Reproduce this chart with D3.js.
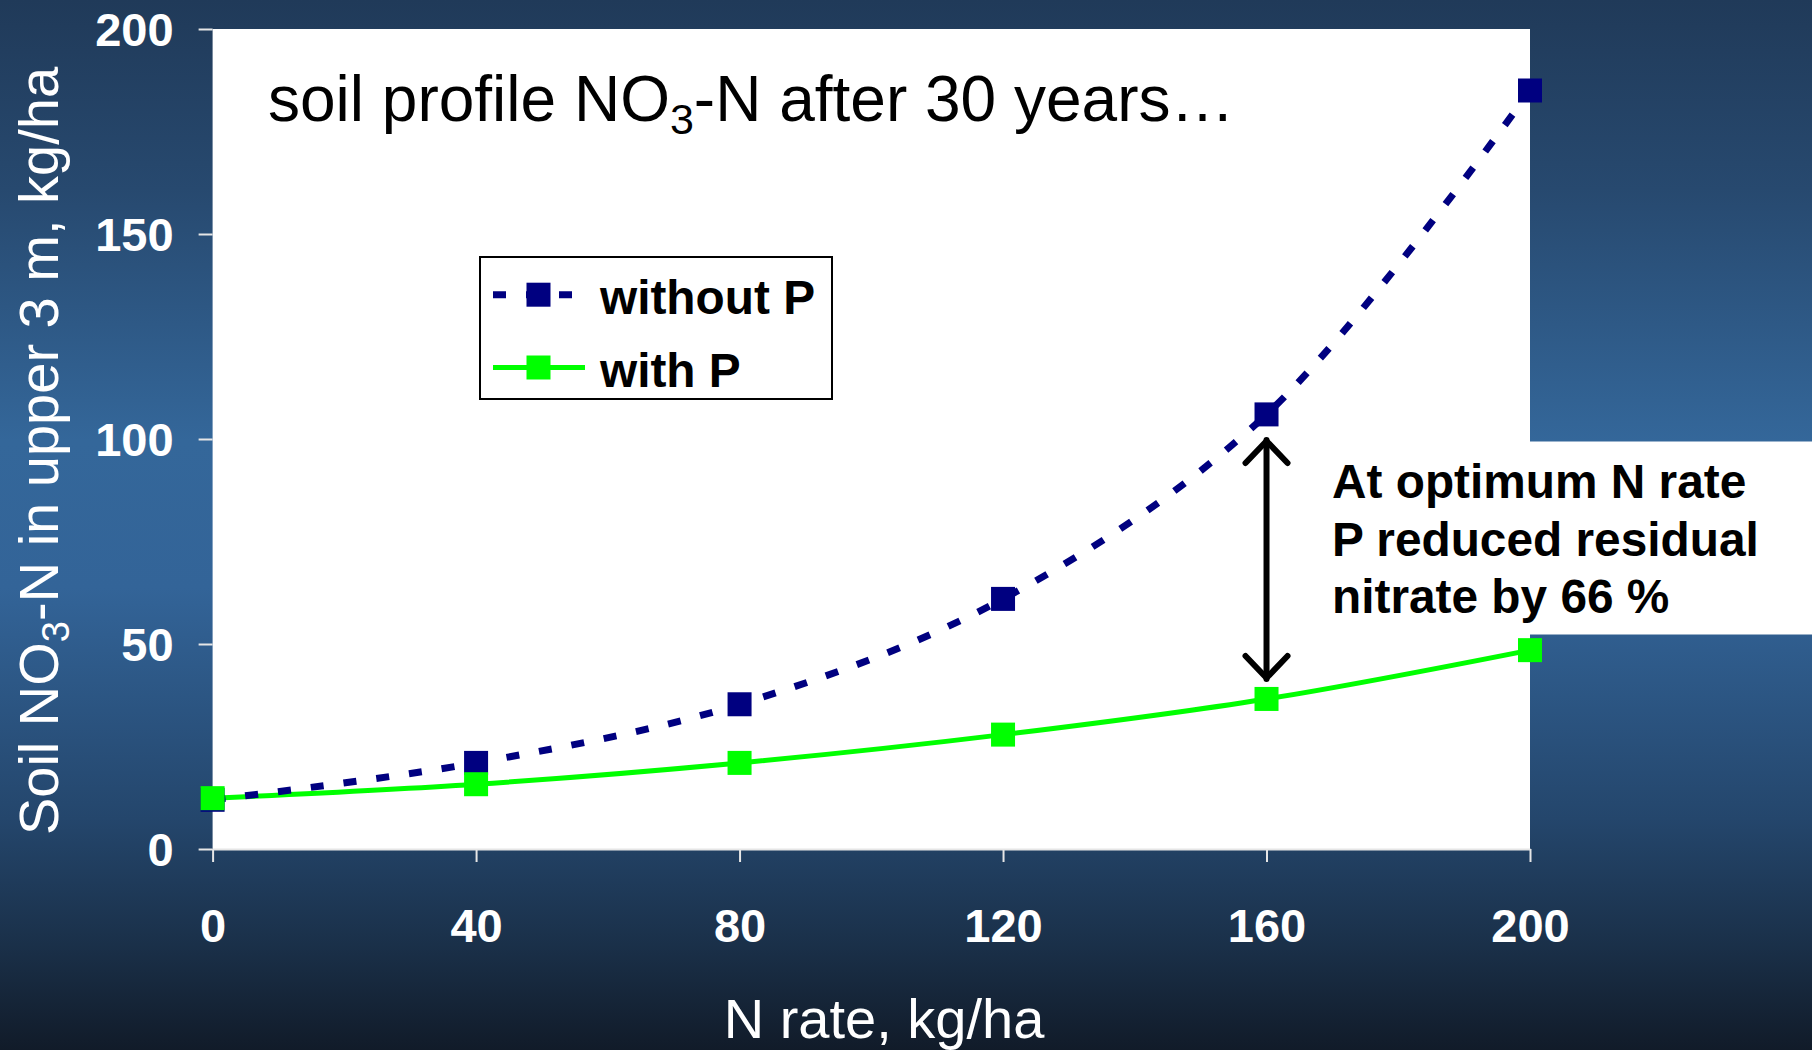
<!DOCTYPE html>
<html>
<head>
<meta charset="utf-8">
<script src="https://cdn.jsdelivr.net/npm/d3@7/dist/d3.min.js"></script>
<style>
  html, body { margin: 0; padding: 0; overflow: hidden; background: #1a2d45; }
  svg { display: block; }
</style>
</head>
<body>
<svg id="chart" width="1812" height="1050"></svg>
<script>
// ---- data ----
const nRates = [0, 40, 80, 120, 160, 200];
const withoutP = [12, 21, 35.3, 61, 106, 185];
const withP = [12.4, 15.8, 21, 27.9, 36.6, 48.5];
const yTickValues = [0, 50, 100, 150, 200];
const seriesNames = ["without P", "with P"];
const annotationLines = ["At optimum N rate", "P reduced residual", "nitrate by 66 %"];

// ---- layout ----
const W = 1812, H = 1050;
const plot = { left: 212.6, right: 1530, top: 29, bottom: 849 };
const FONT = "'Liberation Sans', Arial, Helvetica, sans-serif";

const svg = d3.select("#chart");

// background gradient
const defs = svg.append("defs");
const grad = defs.append("linearGradient").attr("id", "bg")
  .attr("x1", 0).attr("y1", 0).attr("x2", 0).attr("y2", 1);
[[0, "#203a59"], [0.18, "#27496f"], [0.42, "#34679a"], [0.56, "#336498"], [0.78, "#24466c"], [0.9, "#1a3049"], [1, "#111b29"]]
  .forEach(([o, c]) => grad.append("stop").attr("offset", o).attr("stop-color", c));
svg.append("rect").attr("width", W).attr("height", H).attr("fill", "url(#bg)");

// scales
const x = d3.scaleLinear().domain([0, 200]).range([plot.left, plot.right]);
const y = d3.scaleLinear().domain([0, 200]).range([plot.bottom, plot.top]);

// plot area
svg.append("rect")
  .attr("x", plot.left).attr("y", plot.top)
  .attr("width", plot.right - plot.left).attr("height", plot.bottom - plot.top)
  .attr("fill", "#ffffff");

// annotation white box
svg.append("rect")
  .attr("x", 1320).attr("y", 441.5).attr("width", W - 1320).attr("height", 193)
  .attr("fill", "#ffffff");

// axes
const xAxis = svg.append("g").attr("transform", `translate(0,${plot.bottom})`)
  .call(d3.axisBottom(x).tickValues(nRates).tickSize(13).tickSizeOuter(0).tickPadding(47));
xAxis.select(".domain").attr("stroke", "#e6e6e6").attr("stroke-width", 2);
xAxis.selectAll(".tick line").attr("stroke", "#e6e6e6").attr("stroke-width", 2);
xAxis.selectAll(".tick text")
  .attr("fill", "#ffffff").attr("font-family", FONT).attr("font-weight", "bold")
  .attr("font-size", 47).attr("dy", "0.71em");

const yAxis = svg.append("g").attr("transform", `translate(${plot.left},0)`)
  .call(d3.axisLeft(y).tickValues(yTickValues).tickSize(14).tickSizeOuter(0).tickPadding(25));
yAxis.select(".domain").remove();
yAxis.selectAll(".tick line").attr("stroke", "#e6e6e6").attr("stroke-width", 2);
yAxis.selectAll(".tick text")
  .attr("fill", "#ffffff").attr("font-family", FONT).attr("font-weight", "bold")
  .attr("font-size", 47).attr("dy", "0.36em");

// axis titles
svg.append("text")
  .attr("x", 884).attr("y", 1038).attr("text-anchor", "middle")
  .attr("fill", "#ffffff").attr("font-family", FONT).attr("font-size", 56)
  .text("N rate, kg/ha");

const yt = svg.append("text")
  .attr("transform", "translate(58,451) rotate(-90)")
  .attr("text-anchor", "middle")
  .attr("fill", "#ffffff").attr("font-family", FONT).attr("font-size", 56);
yt.append("tspan").text("Soil NO");
yt.append("tspan").attr("font-size", 38).attr("dy", 11).text("3");
yt.append("tspan").attr("dy", -11).text("-N in upper 3 m, kg/ha");

// chart title inside plot
const tt = svg.append("text")
  .attr("x", 268).attr("y", 121)
  .attr("fill", "#000000").attr("font-family", FONT).attr("font-size", 64);
tt.append("tspan").text("soil profile NO");
tt.append("tspan").attr("font-size", 43).attr("dy", 13).text("3");
tt.append("tspan").attr("dy", -13).text("-N after 30 years\u2026");

// lines
const line = d3.line().x((d, i) => x(nRates[i])).y(d => y(d)).curve(d3.curveCatmullRom.alpha(0.5));

svg.append("path").datum(withP)
  .attr("d", line).attr("fill", "none")
  .attr("stroke", "#00ff00").attr("stroke-width", 5);

svg.append("path").datum(withoutP)
  .attr("d", line).attr("fill", "none")
  .attr("stroke", "#000080").attr("stroke-width", 7)
  .attr("stroke-dasharray", "13,20");

const MS = 24;
svg.append("g").selectAll("rect").data(withoutP).join("rect")
  .attr("x", (d, i) => x(nRates[i]) - MS / 2).attr("y", d => y(d) - MS / 2)
  .attr("width", MS).attr("height", MS).attr("fill", "#000080");

svg.append("g").selectAll("rect").data(withP).join("rect")
  .attr("x", (d, i) => x(nRates[i]) - MS / 2).attr("y", d => y(d) - MS / 2)
  .attr("width", MS).attr("height", MS).attr("fill", "#00ff00");

// double-headed arrow at N rate 160
const ax = x(160);
const aTop = 437, aBot = 682;
const arrow = svg.append("g").attr("stroke", "#000").attr("stroke-width", 6)
  .attr("fill", "none").attr("stroke-linecap", "round").attr("stroke-linejoin", "round");
arrow.append("line").attr("x1", ax).attr("x2", ax).attr("y1", aTop + 3).attr("y2", aBot - 3);
arrow.append("polyline").attr("points", `${ax - 21},${aTop + 26} ${ax},${aTop + 4} ${ax + 21},${aTop + 26}`);
arrow.append("polyline").attr("points", `${ax - 21},${aBot - 26} ${ax},${aBot - 4} ${ax + 21},${aBot - 26}`);

// annotation text
svg.append("g").selectAll("text").data(annotationLines).join("text")
  .attr("x", 1332).attr("y", (d, i) => 498 + i * 57.5)
  .attr("fill", "#000").attr("font-family", FONT).attr("font-weight", "bold")
  .attr("font-size", 47.8).text(d => d);

// legend
const lg = svg.append("g");
lg.append("rect").attr("x", 480).attr("y", 257).attr("width", 352).attr("height", 142)
  .attr("fill", "#fff").attr("stroke", "#000").attr("stroke-width", 2);
const legendRows = [
  { name: seriesNames[0], color: "#000080", dash: "13,20", width: 7, y: 294.7 },
  { name: seriesNames[1], color: "#00ff00", dash: null, width: 5, y: 367.5 }
];
legendRows.forEach(r => {
  lg.append("line").attr("x1", 493).attr("x2", 585).attr("y1", r.y).attr("y2", r.y)
    .attr("stroke", r.color).attr("stroke-width", r.width)
    .attr("stroke-dasharray", r.dash);
  lg.append("rect").attr("x", 538.5 - MS / 2).attr("y", r.y - MS / 2)
    .attr("width", MS).attr("height", MS).attr("fill", r.color);
  lg.append("text").attr("x", 600).attr("y", r.y + 19)
    .attr("fill", "#000").attr("font-family", FONT).attr("font-weight", "bold")
    .attr("font-size", 47.8).text(r.name);
});
</script>
</body>
</html>
